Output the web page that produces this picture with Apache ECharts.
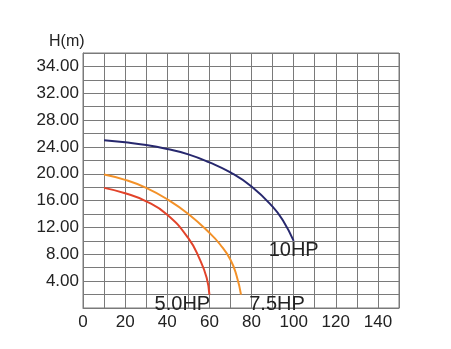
<!DOCTYPE html>
<html><head><meta charset="utf-8">
<script src="https://cdn.jsdelivr.net/npm/echarts@6/dist/echarts.min.js"></script>
<style>html,body{margin:0;padding:0;background:#fff}#c{width:451px;height:349px}</style>
</head><body><div id="c"></div>
<script>
// Flow (x) and head (H, m)
const flow10 = [10, 20, 30, 40, 50, 60, 70, 80, 90, 95, 100];
const head10 = [25, 24.7, 24.3, 23.7, 22.9, 21.7, 20.2, 18.1, 15.1, 13, 10];
const flow75 = [10, 20, 30, 40, 50, 60, 65, 70, 73, 75];
const head75 = [19.9, 19.1, 17.9, 16.2, 14.0, 11.2, 9.5, 7.2, 4.7, 2];
const flow50 = [10, 20, 30, 40, 50, 55.5, 58.7, 60];
const head50 = [17.9, 17.1, 15.9, 13.9, 10.4, 7.2, 4.5, 2];
const seriesNames = ['10HP', '7.5HP', '5.0HP'];
const yTickValues = [4, 8, 12, 16, 20, 24, 28, 32, 36];
const yTickLabels = ['4.00', '8.00', '12.00', '16.00', '20.00', '24.00', '28.00', '32.00', '34.00'];
const xTickValues = [0, 20, 40, 60, 80, 100, 120, 140];
const xTickLabels = ['0', '20', '40', '60', '80', '100', '120', '140'];

const zip = (a, b) => a.map((v, i) => [v, b[i]]);
const font = 'Liberation Sans';
function withEndLabel(data, text, offset) {
  const d = data.map(p => ({ value: p }));
  d[d.length - 1].label = {
    show: true, formatter: text, position: 'bottom', distance: 0, offset: offset,
    fontSize: 20, color: '#222', fontFamily: font
  };
  return d;
}
function curve(name, color, data) {
  return { name: name, type: 'line', smooth: 0.5, showSymbol: true, symbol: 'circle', symbolSize: 0,
    lineStyle: { color: color, width: 2 }, itemStyle: { color: color }, label: { show: false }, data: data };
}
const chart = echarts.init(document.getElementById('c'), null, { renderer: 'canvas' });
chart.setOption({
  animation: false,
  backgroundColor: '#fff',
  grid: { left: 83, top: 53, right: 52, bottom: 41, show: true, borderColor: '#7a7a7a', borderWidth: 1 },
  title: { text: 'H(m)', left: 44, top: 29, textStyle: { fontSize: 16, fontWeight: 'normal', color: '#222', fontFamily: font } },
  xAxis: {
    type: 'value', min: 0, max: 150, interval: 10,
    axisLine: { show: true, lineStyle: { color: '#7a7a7a', width: 1 } },
    axisTick: { show: false },
    splitLine: { show: true, lineStyle: { color: '#7a7a7a', width: 1 } },
    axisLabel: {
      margin: 6, fontSize: 17, color: '#222', fontFamily: font, showMaxLabel: false,
      formatter: v => { const i = xTickValues.indexOf(v); return i >= 0 ? xTickLabels[i] : ''; }
    }
  },
  yAxis: {
    type: 'value', min: 0, max: 38, interval: 2,
    axisLine: { show: true, lineStyle: { color: '#7a7a7a', width: 1 } },
    axisTick: { show: false },
    splitLine: { show: true, lineStyle: { color: '#7a7a7a', width: 1 } },
    axisLabel: {
      margin: 4, fontSize: 17, color: '#222', fontFamily: font,
      formatter: v => { const i = yTickValues.indexOf(v); return i >= 0 ? yTickLabels[i] : ''; }
    }
  },
  series: [
    curve(seriesNames[0], '#27286e', withEndLabel(zip(flow10, head10), seriesNames[0], [0, 0])),
    curve(seriesNames[1], '#f39128', withEndLabel(zip(flow75, head75), seriesNames[1], [36, 0])),
    curve(seriesNames[2], '#e2432a', withEndLabel(zip(flow50, head50), seriesNames[2], [-27, 0]))
  ]
});
</script></body></html>
